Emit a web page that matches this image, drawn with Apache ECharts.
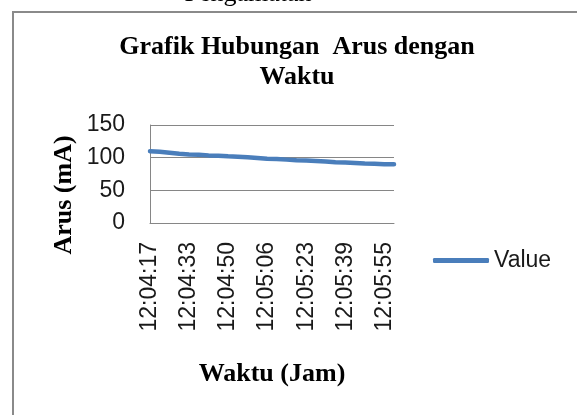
<!DOCTYPE html>
<html>
<head>
<meta charset="utf-8">
<script src="https://cdn.jsdelivr.net/npm/echarts@6/dist/echarts.min.js"></script>
<style>
  html, body { margin: 0; padding: 0; background: #fff; }
  #chart { width: 577px; height: 415px; }
</style>
</head>
<body>
<div id="chart"></div>
<script>
// sampled readings (time, current in mA)
const times = [
  '12:04:17', '12:04:21', '12:04:25', '12:04:29', '12:04:33', '12:04:37',
  '12:04:41', '12:04:46', '12:04:50', '12:04:54', '12:04:58', '12:05:02',
  '12:05:06', '12:05:10', '12:05:14', '12:05:19', '12:05:23', '12:05:27',
  '12:05:31', '12:05:35', '12:05:39', '12:05:43', '12:05:47', '12:05:51',
  '12:05:55', '12:05:59'
];
const arus = [
  110, 109, 107.5, 106, 105, 104.5, 103.5, 103, 102, 101.5, 100.5, 99.5,
  98.5, 98, 97, 96, 95.5, 95, 94, 93, 92.5, 92, 91, 90.5, 90, 90
];
const yTicks = [0, 50, 100, 150];

const serif = '"Liberation Serif", "Times New Roman", serif';
const sans = '"Liberation Sans", Arial, sans-serif';
const gridGray = '#868686';

const chart = echarts.init(document.getElementById('chart'));

chart.setOption({
  animation: false,
  title: {
    text: 'Grafik Hubungan  Arus dengan\nWaktu',
    left: 297,
    top: 33,
    padding: 0,
    textAlign: 'center',
    textStyle: { fontFamily: serif, fontWeight: 'bold', fontSize: 26, lineHeight: 29.5, color: '#000' }
  },
  legend: {
    data: ['Value'],
    left: 433,
    top: 249,
    padding: 0,
    icon: 'roundRect',
    itemWidth: 56,
    itemHeight: 5,
    textStyle: { fontFamily: sans, fontSize: 23, color: '#1a1a1a' }
  },
  grid: { left: 150, top: 125, width: 244, height: 98 },
  xAxis: {
    type: 'category',
    data: times,
    boundaryGap: false,
    axisTick: { show: false },
    axisLine: { lineStyle: { color: gridGray, width: 1 } },
    axisLabel: {
      interval: 3,
      rotate: 90,
      margin: 19,
      fontFamily: sans,
      fontSize: 23,
      color: '#1a1a1a'
    },
    name: 'Waktu (Jam)',
    nameLocation: 'middle',
    nameGap: 151,
    nameTextStyle: { fontFamily: serif, fontWeight: 'bold', fontSize: 26, color: '#000', verticalAlign: 'middle' }
  },
  yAxis: {
    type: 'value',
    min: yTicks[0],
    max: yTicks[yTicks.length - 1],
    interval: yTicks[1] - yTicks[0],
    axisLine: { show: true, lineStyle: { color: gridGray, width: 1 } },
    axisTick: { show: false },
    splitLine: { lineStyle: { color: gridGray, width: 1 } },
    axisLabel: { margin: 25, fontFamily: sans, fontSize: 23, color: '#1a1a1a' }
  },
  graphic: [
    {
      type: 'rect',
      shape: { x: 13, y: 12, width: 700, height: 500 },
      style: { fill: 'none', stroke: '#8a8a8a', lineWidth: 2 },
      silent: true
    },
    {
      type: 'text',
      x: 248,
      y: -6,
      style: { text: 'Pengamatan', font: '26px ' + serif, fill: '#000', align: 'center', verticalAlign: 'middle' }
    },
    {
      type: 'text',
      x: 64,
      y: 195,
      rotation: Math.PI / 2,
      style: { text: 'Arus (mA)', font: 'bold 26px ' + serif, fill: '#000', align: 'center', verticalAlign: 'middle' }
    }
  ],
  series: [
    {
      name: 'Value',
      type: 'line',
      data: arus,
      symbol: 'none',
      lineStyle: { color: '#4A7EBB', width: 4.5, cap: 'round' },
      itemStyle: { color: '#4A7EBB' }
    }
  ]
});
</script>
</body>
</html>
